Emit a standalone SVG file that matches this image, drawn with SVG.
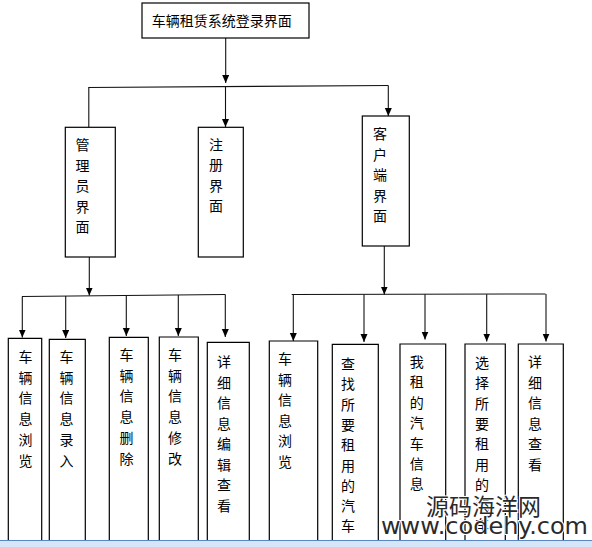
<svg xmlns="http://www.w3.org/2000/svg" width="592" height="547" viewBox="0 0 592 547">
<style>
.box{fill:#fff;stroke:#000;stroke-width:1.2}
.obox{fill:none;stroke:#000;stroke-width:1.2}
.ln{fill:none;stroke:#111;stroke-width:1.1}
.t{font-family:"Noto Sans CJK SC","Noto Sans CJK JP",sans-serif;font-size:14px;fill:#000;text-anchor:middle}
.wm{font-family:"Noto Sans CJK SC",sans-serif;font-size:23px;fill:#2a2a2a;stroke:#fff;stroke-width:2;paint-order:stroke}
.wm2{font-family:"DejaVu Sans",sans-serif;font-size:23px;fill:#2a2a2a;stroke:#fff;stroke-width:2;paint-order:stroke}
</style>
<defs>
<marker id="ar" markerUnits="userSpaceOnUse" markerWidth="8" markerHeight="8" refX="8" refY="3.5" orient="auto">
<path d="M0,0 L8,3.5 L0,7 z" fill="#000"/>
</marker>
</defs>
<rect width="592" height="547" fill="#fff"/>

<g id="connectors">
<line class="ln" x1="225.7" y1="38" x2="225.7" y2="83" marker-end="url(#ar)"/>
<line class="ln" x1="88.3" y1="87.5" x2="388.3" y2="85.5"/>
<line class="ln" x1="88.8" y1="87.5" x2="88.8" y2="127"/>
<line class="ln" x1="225.5" y1="87" x2="225.5" y2="127" marker-end="url(#ar)"/>
<line class="ln" x1="388.3" y1="85.5" x2="388.3" y2="116" marker-end="url(#ar)"/>

<line class="ln" x1="89.3" y1="257" x2="89.3" y2="295.5" marker-end="url(#ar)"/>
<line class="ln" x1="22" y1="296.5" x2="225.3" y2="294.5"/>
<line class="ln" x1="22.3" y1="296.5" x2="22.3" y2="337.5" marker-end="url(#ar)"/>
<line class="ln" x1="65.7" y1="296" x2="65.7" y2="338" marker-end="url(#ar)"/>
<line class="ln" x1="126.3" y1="295.5" x2="126.3" y2="336" marker-end="url(#ar)"/>
<line class="ln" x1="178.3" y1="295" x2="178.3" y2="336" marker-end="url(#ar)"/>
<line class="ln" x1="225.3" y1="294.5" x2="225.3" y2="337" marker-end="url(#ar)"/>

<line class="ln" x1="384.3" y1="246" x2="384.3" y2="294.5" marker-end="url(#ar)"/>
<line class="ln" x1="291.7" y1="294.5" x2="545.5" y2="294"/>
<line class="ln" x1="293.3" y1="294.5" x2="293.3" y2="341" marker-end="url(#ar)"/>
<line class="ln" x1="364" y1="294.5" x2="364" y2="342" marker-end="url(#ar)"/>
<line class="ln" x1="425" y1="294.3" x2="425" y2="339.5" marker-end="url(#ar)"/>
<line class="ln" x1="486.7" y1="294.3" x2="486.7" y2="341.5" marker-end="url(#ar)"/>
<line class="ln" x1="546" y1="294" x2="546" y2="341.5" marker-end="url(#ar)"/>
</g>

<g id="login">
<rect class="box" x="142" y="3" width="167" height="35"/>
<text class="t" x="221.7" y="25.5">车辆租赁系统登录界面</text>
</g>

<g id="admin">
<rect class="box" x="65.3" y="127.3" width="50" height="129.7"/>
<text class="t" x="82.5" y="150"><tspan x="82.5" y="150">管</tspan><tspan x="82.5" y="170.5">理</tspan><tspan x="82.5" y="191">员</tspan><tspan x="82.5" y="211.5">界</tspan><tspan x="82.5" y="232">面</tspan></text>
</g>

<g id="register">
<rect class="box" x="198.3" y="127.3" width="45" height="129.7"/>
<text class="t" x="216" y="150"><tspan x="216" y="150">注</tspan><tspan x="216" y="170.3">册</tspan><tspan x="216" y="190.6">界</tspan><tspan x="216" y="210.9">面</tspan></text>
</g>

<g id="client">
<rect class="box" x="362.3" y="116" width="47" height="130"/>
<text class="t" x="380" y="139"><tspan x="380" y="139">客</tspan><tspan x="380" y="159.5">户</tspan><tspan x="380" y="180">端</tspan><tspan x="380" y="200.5">界</tspan><tspan x="380" y="221">面</tspan></text>
</g>

<g id="a1">
<path class="obox" d="M8.3,540 V338.3 H41.7 V540"/>
<text class="t"><tspan x="25.5" y="362">车</tspan><tspan x="25.5" y="382.7">辆</tspan><tspan x="25.5" y="403.4">信</tspan><tspan x="25.5" y="424.1">息</tspan><tspan x="25.5" y="444.8">浏</tspan><tspan x="25.5" y="465.5">览</tspan></text>
</g>
<g id="a2">
<path class="obox" d="M49.3,540 V339.3 H85.3 V540"/>
<text class="t"><tspan x="66.5" y="362">车</tspan><tspan x="66.5" y="382.7">辆</tspan><tspan x="66.5" y="403.4">信</tspan><tspan x="66.5" y="424.1">息</tspan><tspan x="66.5" y="444.8">录</tspan><tspan x="66.5" y="465.5">入</tspan></text>
</g>
<g id="a3">
<path class="obox" d="M109.3,540 V337.3 H148.3 V540"/>
<text class="t"><tspan x="126.5" y="360">车</tspan><tspan x="126.5" y="380.7">辆</tspan><tspan x="126.5" y="401.4">信</tspan><tspan x="126.5" y="422.1">息</tspan><tspan x="126.5" y="442.8">删</tspan><tspan x="126.5" y="463.5">除</tspan></text>
</g>
<g id="a4">
<path class="obox" d="M159.3,540 V337 H198.3 V540"/>
<text class="t"><tspan x="175" y="360">车</tspan><tspan x="175" y="380.7">辆</tspan><tspan x="175" y="401.4">信</tspan><tspan x="175" y="422.1">息</tspan><tspan x="175" y="442.8">修</tspan><tspan x="175" y="463.5">改</tspan></text>
</g>
<g id="a5">
<path class="obox" d="M207.3,540 V342.3 H249.3 V540"/>
<text class="t"><tspan x="224" y="367">详</tspan><tspan x="224" y="387.5">细</tspan><tspan x="224" y="408">信</tspan><tspan x="224" y="428.5">息</tspan><tspan x="224" y="449">编</tspan><tspan x="224" y="469.5">辑</tspan><tspan x="224" y="490">查</tspan><tspan x="224" y="510.5">看</tspan></text>
</g>

<g id="c1">
<path class="obox" d="M269.3,540 V341 H317.7 V540"/>
<text class="t"><tspan x="285" y="364">车</tspan><tspan x="285" y="384.6">辆</tspan><tspan x="285" y="405.2">信</tspan><tspan x="285" y="425.8">息</tspan><tspan x="285" y="446.4">浏</tspan><tspan x="285" y="467">览</tspan></text>
</g>
<g id="c2">
<path class="obox" d="M332.3,540 V344.3 H378.3 V540"/>
<text class="t"><tspan x="348" y="369">查</tspan><tspan x="348" y="389.3">找</tspan><tspan x="348" y="409.6">所</tspan><tspan x="348" y="429.9">要</tspan><tspan x="348" y="450.2">租</tspan><tspan x="348" y="470.5">用</tspan><tspan x="348" y="490.8">的</tspan><tspan x="348" y="511.1">汽</tspan><tspan x="348" y="531.4">车</tspan></text>
</g>
<g id="c3">
<path class="obox" d="M400,540 V344 H445.7 V540"/>
<text class="t"><tspan x="416.7" y="367">我</tspan><tspan x="416.7" y="387.4">租</tspan><tspan x="416.7" y="407.8">的</tspan><tspan x="416.7" y="428.2">汽</tspan><tspan x="416.7" y="448.6">车</tspan><tspan x="416.7" y="469">信</tspan><tspan x="416.7" y="489.4">息</tspan></text>
</g>
<g id="c4">
<path class="obox" d="M465,540 V344 H505.3 V540"/>
<text class="t"><tspan x="482" y="368">选</tspan><tspan x="482" y="388.3">择</tspan><tspan x="482" y="408.6">所</tspan><tspan x="482" y="428.9">要</tspan><tspan x="482" y="449.2">租</tspan><tspan x="482" y="469.5">用</tspan><tspan x="482" y="489.8">的</tspan><tspan x="482" y="510.1">汽</tspan><tspan x="482" y="530.4">车</tspan></text>
</g>
<g id="c5">
<path class="obox" d="M518.3,540 V344 H563.3 V540"/>
<text class="t"><tspan x="535" y="367">详</tspan><tspan x="535" y="387.5">细</tspan><tspan x="535" y="408">信</tspan><tspan x="535" y="428.5">息</tspan><tspan x="535" y="449">查</tspan><tspan x="535" y="469.5">看</tspan></text>
</g>

<g id="watermark">
<text class="wm" x="426" y="514.5">源码海洋网</text>
<text class="wm2" x="381" y="533.5" textLength="207" lengthAdjust="spacingAndGlyphs">www.codehy.com</text>
</g>

<g id="strip">
<rect x="0" y="540" width="592" height="7" fill="#d6e5f7"/>
<line x1="0" y1="540.5" x2="592" y2="540.5" stroke="#5a86c4" stroke-width="1"/>
</g>
</svg>
